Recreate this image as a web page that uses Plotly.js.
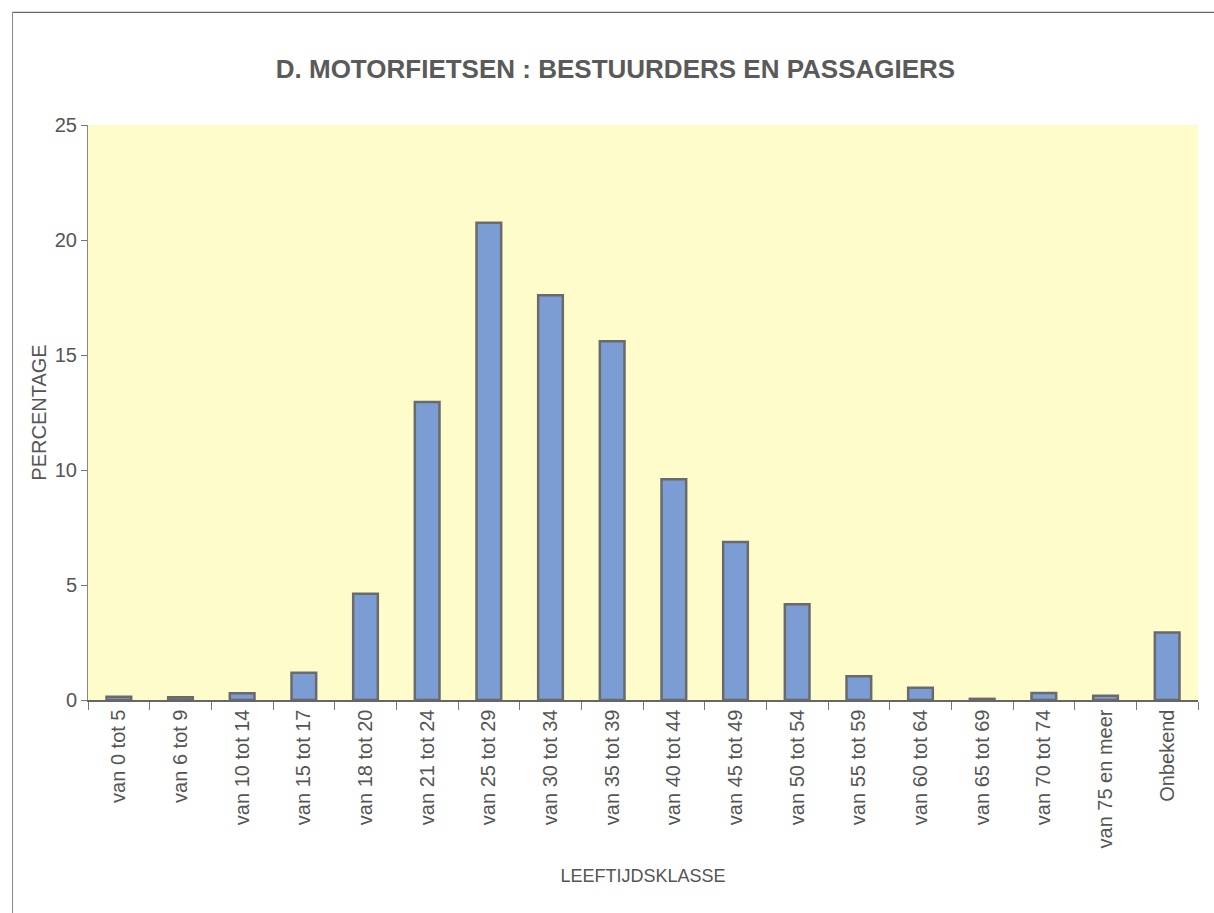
<!DOCTYPE html>
<html><head><meta charset="utf-8">
<script src="https://cdn.plot.ly/plotly-3.0.1.min.js"></script>
<style>body{margin:0;background:#fff}#chart{width:1214px;height:913px}</style>
</head><body><div id="chart"></div>
<script>
const categories = ["van 0 tot 5","van 6 tot 9","van 10 tot 14","van 15 tot 17","van 18 tot 20","van 21 tot 24","van 25 tot 29","van 30 tot 34","van 35 tot 39","van 40 tot 44","van 45 tot 49","van 50 tot 54","van 55 tot 59","van 60 tot 64","van 65 tot 69","van 70 tot 74","van 75 en meer","Onbekend"];
const percentages = [0.14,0.12,0.29,1.19,4.62,12.96,20.75,17.6,15.6,9.6,6.87,4.16,1.03,0.53,0.05,0.3,0.19,2.93];
const yTicks = [0,5,10,15,20,25];

const trace = {
  type: 'bar', x: categories, y: percentages,
  marker: {color: '#7c9dd4', line: {color: '#6a6a6a', width: 2.5}},
  hoverinfo: 'x+y'
};
const layout = {
  width: 1214, height: 913,
  paper_bgcolor: '#ffffff', plot_bgcolor: '#fffccc',
  margin: {l: 88, r: 16, t: 125, b: 213},
  bargap: 0.6,
  showlegend: false,
  font: {family: 'Liberation Sans, Arial, sans-serif', color: '#555555'},
  title: {text: '<b>D. MOTORFIETSEN : BESTUURDERS EN PASSAGIERS</b>', x: 0.507, xanchor: 'center', y: 0.925, yanchor: 'middle', font: {size: 26, color: '#5a5a5a'}},
  xaxis: {
    type: 'category', tickangle: -90, tickfont: {size: 20, color: '#555'},
    ticks: 'outside', tickson: 'boundaries', ticklen: 8, tickcolor: '#777',
    showline: true, linecolor: '#666', linewidth: 1.5, showgrid: false,
    automargin: false,
    title: {text: 'LEEFTIJDSKLASSE', font: {size: 18, color: '#555'}, standoff: 22}
  },
  yaxis: {
    range: [0, 25], tickvals: yTicks, ticktext: yTicks.map(String),
    tickfont: {size: 20, color: '#555'}, ticks: 'outside', ticklen: 6, tickcolor: '#777',
    showline: true, linecolor: '#888', linewidth: 1, showgrid: false, zeroline: false,
    automargin: false,
    title: {text: 'PERCENTAGE', font: {size: 20, color: '#555'}, standoff: 2}
  },
  shapes: [
    {type: 'line', xref: 'paper', yref: 'paper', x0: -0.068, x1: 1.02, y0: 1.196, y1: 1.196, line: {color: '#666', width: 1.2}},
    {type: 'line', xref: 'paper', yref: 'paper', x0: -0.068, x1: -0.068, y0: 1.196, y1: -0.4, line: {color: '#888', width: 1}}
  ]
};
Plotly.newPlot('chart', [trace], layout, {displayModeBar: false, staticPlot: true});
</script></body></html>
